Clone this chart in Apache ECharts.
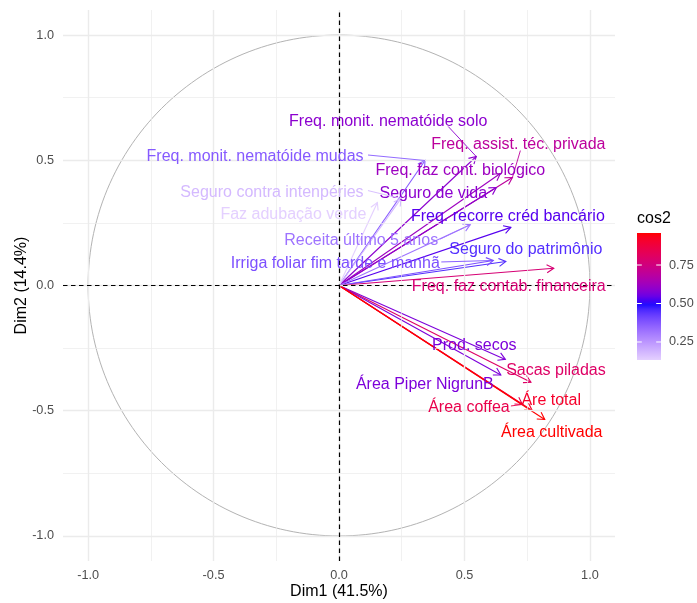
<!DOCTYPE html>
<html><head><meta charset="utf-8">
<script src="https://cdn.jsdelivr.net/npm/echarts@6/dist/echarts.min.js"></script>
<style>html,body{margin:0;padding:0;background:#fff}#c{width:697px;height:603px}</style>
</head><body><div id="c"></div>
<script>
// ---------------- data ----------------
const variables = ["Freq. monit. nematóide solo", "Freq. monit. nematóide mudas", "Freq. assist. téc. privada",
  "Freq. faz cont. biológico", "Seguro de vida", "Seguro contra intenpéries", "Faz adubação verde",
  "Freq. recorre créd bancário", "Receita último 5 anos", "Seguro do patrimônio",
  "Irriga foliar fim tarde e manhã", "Freq. faz contab. financeira", "Prod. secos", "Sacas piladas",
  "Área Piper NigrunB", "Área coffea", "Áre total", "Área cultivada"];
const dim1 = [0.547, 0.343, 0.691, 0.643, 0.627, 0.247, 0.153, 0.685, 0.523, 0.665, 0.615, 0.856, 0.663, 0.765, 0.645, 0.731, 0.770, 0.820];
const dim2 = [0.515, 0.499, 0.431, 0.447, 0.391, 0.347, 0.331, 0.232, 0.243, 0.096, 0.100, 0.069, -0.295, -0.386, -0.357, -0.475, -0.499, -0.535];
const cos2 = [0.59, 0.37, 0.69, 0.62, 0.59, 0.18, 0.133, 0.53, 0.32, 0.45, 0.39, 0.77, 0.57, 0.80, 0.57, 0.85, 0.91, 0.958];
const axisTicks = [-1, -0.5, 0, 0.5, 1];
const axisTickLabels = ['-1.0', '-0.5', '0.0', '0.5', '1.0'];
const minorTicks = [-0.75, -0.25, 0.25, 0.75];
const legendTicks = [0.25, 0.5, 0.75];
const legendTickLabels = ['0.25', '0.50', '0.75'];
const xTitle = 'Dim1 (41.5%)';
const yTitle = 'Dim2 (14.4%)';
const legendTitle = 'cos2';

// ---------------- layout (label offsets in px from arrow tip, like ggrepel placement) ----------------
const labelOffsets = [[-88,-35],[-170,-3.5],[6,-33],[-40,-2.5],[-63,6.5],[-129,-6],[-84,11.5],
  [-3,-11],[-109,15.5],[20,-12],[-158,3.5],[-45,18],[-31,-13.5],[25,-12],[-76,10],[-53.5,3.5],[19,-9.5],[7,13.5]];
// connector start (px, relative to label centre) or null when no repel segment is drawn
const connectorFrom = [[60,5],[113,-2],[2,6],null,null,[96,-2],null,null,[79,-1],null,[106,-2],null,null,null,null,[42,-2],null,null];
const LABEL_FONT = '16px "Liberation Sans", Arial, sans-serif';

// ---------------- colour scale: gradient2 (white, blue, red) in Lab ----------------
function hex2rgb(h){h=h.replace('#','');return [0,2,4].map(i=>parseInt(h.substr(i,2),16));}
function lin(c){c/=255;return c<=0.04045?c/12.92:Math.pow((c+0.055)/1.055,2.4);}
function unlin(c){c=c<=0.0031308?12.92*c:1.055*Math.pow(c,1/2.4)-0.055;return Math.max(0,Math.min(255,Math.round(c*255)));}
const Xn=0.95047,Yn=1,Zn=1.08883;
function ff(t){return t>0.008856?Math.cbrt(t):7.787*t+16/116;}
function finv(t){const t3=t*t*t;return t3>0.008856?t3:(t-16/116)/7.787;}
function rgb2lab(rgb){const [r,g,b]=rgb.map(lin);
  const X=0.4124564*r+0.3575761*g+0.1804375*b,Y=0.2126729*r+0.7151522*g+0.0721750*b,Z=0.0193339*r+0.1191920*g+0.9503041*b;
  const fx=ff(X/Xn),fy=ff(Y/Yn),fz=ff(Z/Zn);return [116*fy-16,500*(fx-fy),200*(fy-fz)];}
function lab2hex(l){const fy=(l[0]+16)/116,fx=fy+l[1]/500,fz=fy-l[2]/200;
  const X=Xn*finv(fx),Y=Yn*finv(fy),Z=Zn*finv(fz);
  const r=3.2404542*X-1.5371385*Y-0.4985314*Z,g=-0.9692660*X+1.8760108*Y+0.0415560*Z,b=0.0556434*X-0.2040259*Y+1.0572252*Z;
  return '#'+[r,g,b].map(c=>unlin(c).toString(16).padStart(2,'0')).join('');}
const LOW=rgb2lab(hex2rgb('#FFFFFF')), MID=rgb2lab(hex2rgb('#0000FF')), HIGH=rgb2lab(hex2rgb('#FF0000'));
const cmin=Math.min(...cos2), cmax=Math.max(...cos2), cmid=0.5;
const cspan=Math.max(cmax-cmid,cmid-cmin);
function colorOf(v){
  const t=0.5+(v-cmid)/(2*cspan);
  let a,b,s;
  if(t<=0.5){a=LOW;b=MID;s=t/0.5;}else{a=MID;b=HIGH;s=(t-0.5)/0.5;}
  return lab2hex([0,1,2].map(k=>a[k]+(b[k]-a[k])*s));
}

const chart=echarts.init(document.getElementById('c'),null,{renderer:'canvas'});
const items=dim1.map((x,i)=>[x,dim2[i],i]);

function tickFmt(v){const i=axisTicks.findIndex(t=>Math.abs(t-v)<1e-6);return i>=0?axisTickLabels[i]:'';}

const gridMajor={color:'#EBEBEB',width:1.4,type:'solid'};
const gridMinor={color:'#EBEBEB',width:0.7,type:'solid'};

// colorbar
const barX=637,barY=233,barW=24,barH=127;
const stops=[];
for(let k=0;k<=30;k++){const v=cmax-(cmax-cmin)*k/30;stops.push({offset:k/30,color:colorOf(v)});}
const graphics=[
  {type:'text',left:barX,top:211,style:{text:legendTitle,font:'16px "Liberation Sans", Arial, sans-serif',fill:'#000'}},
  {type:'rect',shape:{x:barX,y:barY,width:barW,height:barH},style:{fill:{type:'linear',x:0,y:0,x2:0,y2:1,colorStops:stops}}}
];
legendTicks.forEach((v,i)=>{
  const y=barY+barH-(v-cmin)/(cmax-cmin)*barH;
  graphics.push({type:'line',shape:{x1:barX,y1:y,x2:barX+barW/5,y2:y},style:{stroke:'#fff',lineWidth:1}});
  graphics.push({type:'line',shape:{x1:barX+barW*4/5,y1:y,x2:barX+barW,y2:y},style:{stroke:'#fff',lineWidth:1}});
  graphics.push({type:'text',x:barX+barW+8,y:y,style:{text:legendTickLabels[i],font:'12.7px "Liberation Sans", Arial, sans-serif',fill:'#4D4D4D',verticalAlign:'middle',align:'left'}});
});

const axisCommon={type:'value',min:-1.1,max:1.1,interval:0.1,
  axisLine:{show:false,onZero:false},axisTick:{show:false},splitLine:{show:false},
  nameLocation:'middle',nameMoveOverlap:false,
  nameTextStyle:{fontSize:16,color:'#000',fontFamily:'"Liberation Sans", Arial, sans-serif'}};

const option={
  animation:false,
  backgroundColor:'#fff',
  grid:{left:63,top:10,width:552,height:551,containLabel:false,outerBoundsMode:'none'},
  xAxis:Object.assign({},axisCommon,{name:xTitle,nameGap:23,
    axisLabel:{formatter:tickFmt,color:'#4D4D4D',fontSize:12.7,margin:8,fontFamily:'"Liberation Sans", Arial, sans-serif'}}),
  yAxis:Object.assign({},axisCommon,{name:yTitle,nameGap:33,
    axisLabel:{formatter:tickFmt,color:'#4D4D4D',fontSize:12.7,margin:9,fontFamily:'"Liberation Sans", Arial, sans-serif'}}),
  graphic:graphics,
  series:[
    {type:'line',data:[],z:1,silent:true,
     markLine:{silent:true,symbol:['none','none'],label:{show:false},emphasis:{disabled:true},
       data:[].concat(
         minorTicks.map(v=>({xAxis:v,lineStyle:gridMinor})),
         minorTicks.map(v=>({yAxis:v,lineStyle:gridMinor})),
         axisTicks.map(v=>({xAxis:v,lineStyle:gridMajor})),
         axisTicks.map(v=>({yAxis:v,lineStyle:gridMajor})))}},
    {type:'custom',z:2,silent:true,data:[[0,0]],
     renderItem:function(params,api){
       const pts=[];
       for(let k=0;k<=240;k++){const a=2*Math.PI*k/240;pts.push(api.coord([Math.cos(a),Math.sin(a)]));}
       return {type:'polyline',shape:{points:pts},style:{stroke:'#B3B3B3',lineWidth:1,fill:null}};
     }},
    {type:'line',data:[],z:3,silent:true,
     markLine:{silent:true,symbol:['none','none'],label:{show:false},emphasis:{disabled:true},
       lineStyle:{color:'#000',width:1.2,type:[4.5,3.5]},
       data:[{xAxis:0},{yAxis:0}]}},
    {type:'custom',z:4,silent:true,data:items,encode:{x:0,y:1},
     renderItem:function(params,api){
       const i=api.value(2);
       const p0=api.coord([0,0]),p1=api.coord([api.value(0),api.value(1)]);
       const ang=Math.atan2(p1[1]-p0[1],p1[0]-p0[0]);
       const L=8,A=Math.PI/6;
       const h1=[p1[0]-L*Math.cos(ang-A),p1[1]-L*Math.sin(ang-A)];
       const h2=[p1[0]-L*Math.cos(ang+A),p1[1]-L*Math.sin(ang+A)];
       const col=colorOf(cos2[i]);
       return {type:'group',children:[
         {type:'line',shape:{x1:p0[0],y1:p0[1],x2:p1[0],y2:p1[1]},style:{stroke:col,lineWidth:1.1}},
         {type:'polyline',shape:{points:[h1,p1,h2]},style:{stroke:col,lineWidth:1.1,fill:null}}
       ]};
     }},
    {type:'custom',z:5,silent:true,data:items,encode:{x:0,y:1},
     renderItem:function(params,api){
       const i=api.value(2);
       const p1=api.coord([api.value(0),api.value(1)]);
       const cx=p1[0]+labelOffsets[i][0],cy=p1[1]+labelOffsets[i][1];
       const col=colorOf(cos2[i]);
       const children=[];
       const cf=connectorFrom[i];
       if(cf){children.push({type:'line',shape:{x1:cx+cf[0],y1:cy+cf[1],x2:p1[0],y2:p1[1]},style:{stroke:col,lineWidth:0.9}});}
       children.push({type:'text',x:cx,y:cy,style:{text:variables[i],font:LABEL_FONT,fill:col,align:'center',verticalAlign:'middle'}});
       return {type:'group',children:children};
     }}
  ]
};
chart.setOption(option);
</script></body></html>
